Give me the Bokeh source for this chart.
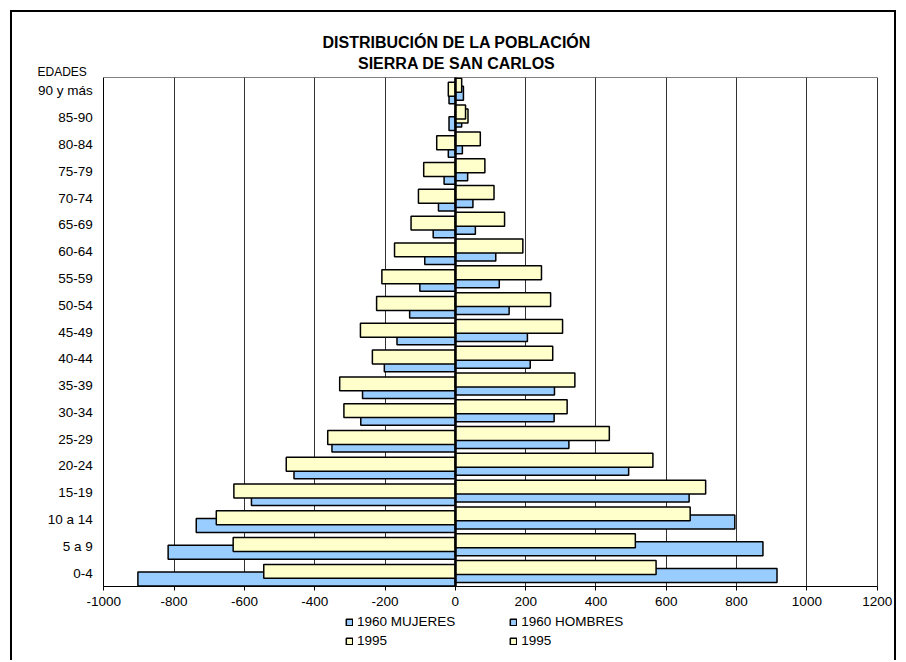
import numpy as np
from bokeh.plotting import figure
from bokeh.models import (Range1d, Title, Legend, LegendItem, Grid,
                          FixedTicker, ColumnDataSource)
from bokeh.embed import file_html
from bokeh.resources import INLINE

# ---- data (bottom to top) ----
age_groups = ["0-4", "5 a 9", "10 a 14", "15-19", "20-24", "25-29", "30-34",
              "35-39", "40-44", "45-49", "50-54", "55-59", "60-64", "65-69",
              "70-74", "75-79", "80-84", "85-90", "90 y más"]
mujeres_1960 = [-903, -817, -737, -580, -459, -351, -269, -264, -202, -166,
                -130, -101, -87, -63, -48, -32, -20, -18, -18]
mujeres_1995 = [-545, -632, -680, -630, -481, -363, -317, -329, -236, -270,
                -224, -209, -173, -126, -105, -90, -53, 36, -20]
hombres_1960 = [915, 875, 795, 665, 493, 323, 281, 282, 213, 205,
                153, 125, 115, 57, 50, 35, 20, 18, 23]
hombres_1995 = [571, 512, 668, 712, 562, 438, 318, 340, 277, 305,
                271, 245, 192, 140, 110, 84, 71, 29, 18]
x_ticks = [-1000, -800, -600, -400, -200, 0, 200, 400, 600, 800, 1000, 1200]

title_1 = "DISTRIBUCIÓN DE LA POBLACIÓN"
title_2 = "SIERRA DE SAN CARLOS"
axis_name = "EDADES"

BLUE = "#99CCFF"
YELLOW = "#FFFFCC"
FONT = "Liberation Sans"

n = len(age_groups)
x_min, x_max = x_ticks[0], x_ticks[-1]
centers = np.arange(n) + 0.5
src = ColumnDataSource(dict(
    age=age_groups, m60=mujeres_1960, m95=mujeres_1995,
    h60=hombres_1960, h95=hombres_1995,
    y_m60=centers - 0.22, y_h60=centers - 0.09,
    y_m95=centers + 0.065, y_h95=centers + 0.21))

# ---- geometry (page pixels) ----
canvas_left, canvas_top = 12, 12
W, Hc = 886, 650
plot_left, plot_right, plot_top, plot_bottom = 103.3, 876.7, 77.0, 586.0
frame_left = canvas_left + 2
frame_right = canvas_left + W
frame_bottom = canvas_top + Hc - 8
ppx = (plot_right - plot_left) / (x_max - x_min)
ppy = (plot_bottom - plot_top) / n
xr = Range1d(x_min - (plot_left - frame_left) / ppx,
             x_max + (frame_right - plot_right) / ppx)
yr = Range1d(-(frame_bottom - plot_bottom) / ppy, n + 0.001)

p = figure(width=W, height=Hc, x_range=xr, y_range=yr,
           output_backend="svg", toolbar_location=None,
           min_border_left=2, min_border_right=0,
           min_border_top=65, min_border_bottom=8,
           styles={"margin-left": "10px", "margin-top": "10px",
                   "border-left": "2px solid black",
                   "border-top": "2px solid black",
                   "border-right": "2px solid black"})

p.outline_line_color = None
p.background_fill_color = "white"

# gridlines limited to the plotting area
p.xgrid.ticker = FixedTicker(ticks=x_ticks)
p.xgrid.grid_line_color = "#333333"
p.xgrid.grid_line_width = 1
p.xgrid.cross_bounds = (0, n)
p.ygrid.grid_line_color = None
# top border of the plotting area
p.add_layout(Grid(dimension=1, ticker=FixedTicker(ticks=[n]), bounds=(0, n + 1),
                  cross_bounds=(x_min, x_max), grid_line_color="black",
                  grid_line_width=1))

BH = 0.52
bar_kw = dict(source=src, height=BH, line_color="black", line_width=1.5, left=0)
r_m60 = p.hbar(y="y_m60", right="m60", fill_color=BLUE, **bar_kw)
r_h60 = p.hbar(y="y_h60", right="h60", fill_color=BLUE, **bar_kw)
r_m95 = p.hbar(y="y_m95", right="m95", fill_color=YELLOW, **bar_kw)
r_h95 = p.hbar(y="y_h95", right="h95", fill_color=YELLOW, **bar_kw)

# vertical zero line (category axis crossing) above the bars
p.add_layout(Grid(dimension=0, ticker=FixedTicker(ticks=[0]), bounds=(x_min, x_max),
                  cross_bounds=(0, n), grid_line_color="black",
                  grid_line_width=2.5, level="overlay"))

# x axis sits at the bottom of the groups
xa = p.xaxis[0]
xa.fixed_location = 0
xa.bounds = (x_min, x_max)
xa.ticker = FixedTicker(ticks=x_ticks)
xa.major_label_overrides = {t: str(t) for t in x_ticks}
xa.axis_line_color = "black"
xa.major_tick_out = 4
xa.major_tick_in = 0
xa.minor_tick_line_color = None
xa.major_tick_line_color = "black"
xa.major_label_text_font = FONT
xa.major_label_text_font_size = "13.5px"
xa.major_label_text_color = "black"
xa.major_label_standoff = 6

ya = p.yaxis[0]
ya.fixed_location = x_min
ya.bounds = (0, n)
ya.ticker = FixedTicker(ticks=list(centers))
ya.major_label_overrides = {float(c): a for c, a in zip(centers, age_groups)}
ya.axis_line_color = "black"
ya.major_tick_out = 0
ya.major_tick_in = 0
ya.minor_tick_line_color = None
ya.major_label_text_font = FONT
ya.major_label_text_font_size = "13.5px"
ya.major_label_text_color = "black"
ya.major_label_standoff = 11

# titles (first added sits closest to the plot)
p.add_layout(Title(text=axis_name, align="left", offset=37 - frame_left, standoff=-3,
                   text_font=FONT, text_font_size="12px", text_color="black",
                   text_font_style="normal"), "above")
p.add_layout(Title(text=title_2, align="left", offset=357.5 - frame_left, standoff=-15,
                   text_font=FONT, text_font_size="16px", text_color="black",
                   text_font_style="bold"), "above")
p.add_layout(Title(text=title_1, align="left", offset=322 - frame_left, standoff=20,
                   text_font=FONT, text_font_size="16px", text_color="black",
                   text_font_style="bold"), "above")

# legends: two columns under the axis
leg_kw = dict(glyph_width=8, glyph_height=8, label_standoff=4,
              label_text_font=FONT, label_text_font_size="13.5px",
              label_text_color="black",
              label_height=19, spacing=0, padding=0, margin=0,
              border_line_alpha=0, background_fill_alpha=0)
leg_vy = frame_bottom - 650.3
leg1 = Legend(items=[LegendItem(label="1960 MUJERES", renderers=[r_m60]),
                     LegendItem(label="1995", renderers=[r_m95])],
              location=(345 - frame_left, leg_vy), **leg_kw)
leg2 = Legend(items=[LegendItem(label="1960 HOMBRES", renderers=[r_h60]),
                     LegendItem(label="1995", renderers=[r_h95])],
              location=(509.3 - frame_left, leg_vy), **leg_kw)
p.add_layout(leg1)
p.add_layout(leg2)

open("out.html", "w").write(file_html(p, INLINE))
